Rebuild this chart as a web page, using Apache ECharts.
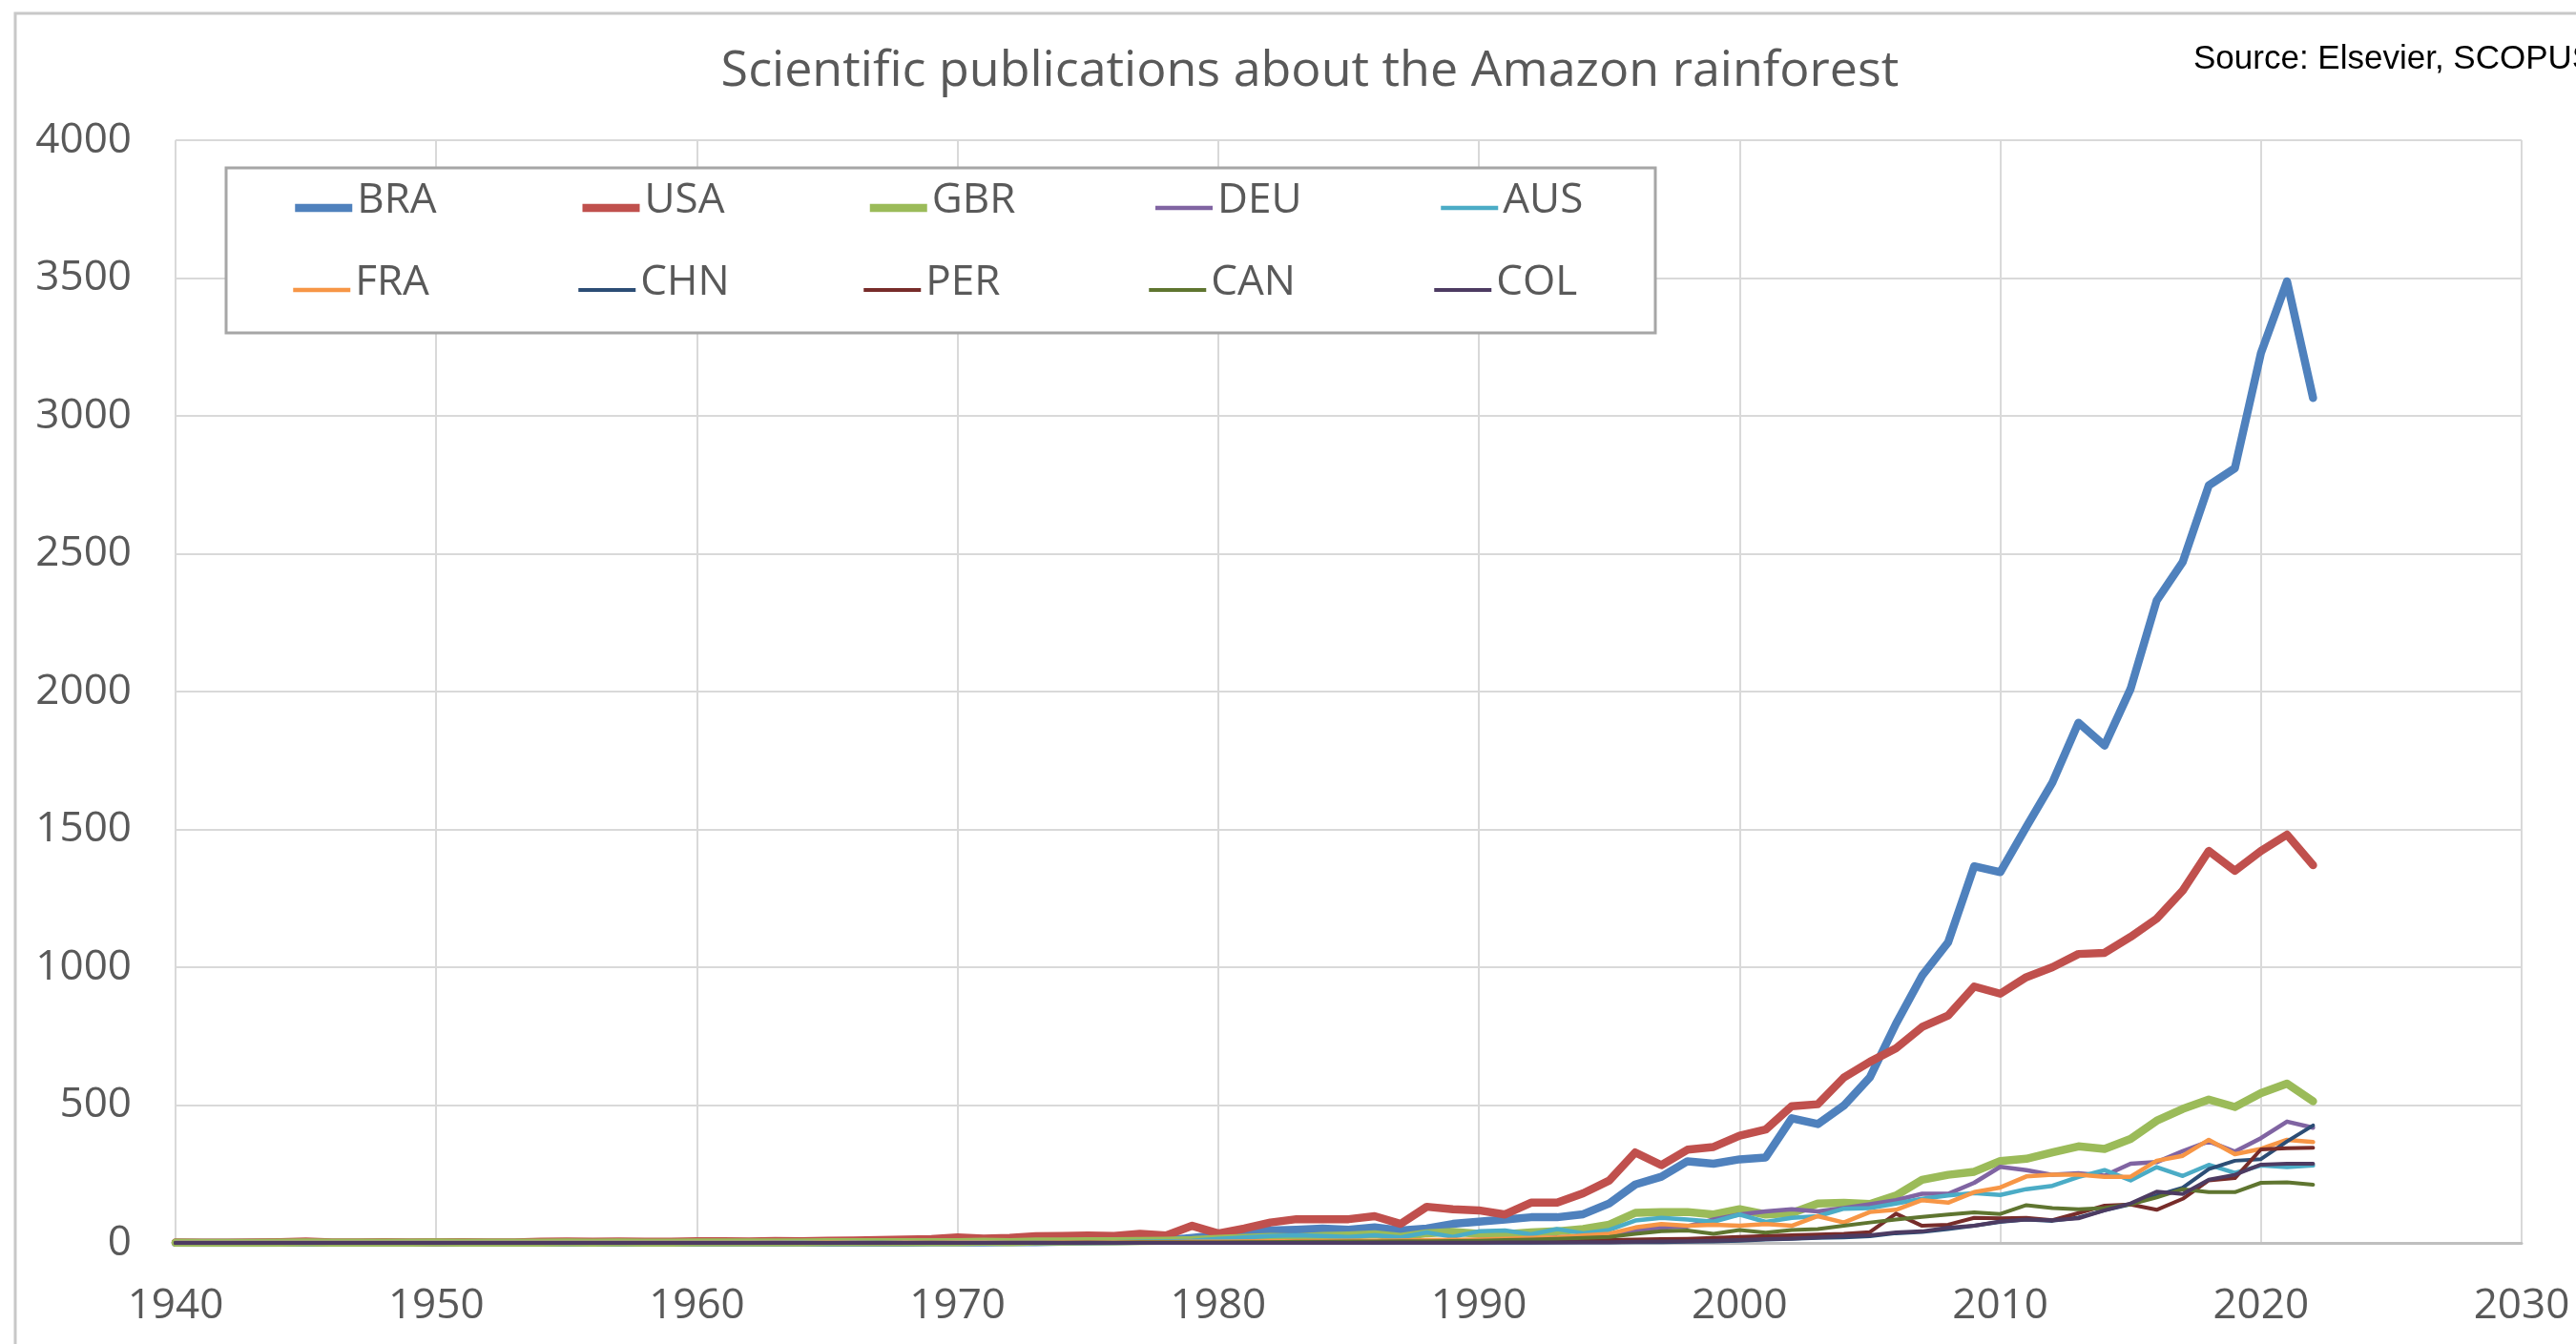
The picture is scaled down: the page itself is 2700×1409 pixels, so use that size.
<!DOCTYPE html>
<html>
<head>
<meta charset="utf-8">
<script src="https://cdn.jsdelivr.net/npm/echarts@6/dist/echarts.min.js"></script>
<style>
html, body { margin: 0; padding: 0; background: #fff; }
#main { width: 2700px; height: 1409px; }
</style>
</head>
<body>
<div id="main"></div>
<script>
// years 1940..2022
var years = [1940,1941,1942,1943,1944,1945,1946,1947,1948,1949,
  1950,1951,1952,1953,1954,1955,1956,1957,1958,1959,
  1960,1961,1962,1963,1964,1965,1966,1967,1968,1969,
  1970,1971,1972,1973,1974,1975,1976,1977,1978,1979,
  1980,1981,1982,1983,1984,1985,1986,1987,1988,1989,
  1990,1991,1992,1993,1994,1995,1996,1997,1998,1999,
  2000,2001,2002,2003,2004,2005,2006,2007,2008,2009,
  2010,2011,2012,2013,2014,2015,2016,2017,2018,2019,
  2020,2021,2022];

var BRA = [0,0,0,0,0,0,0,0,0,0, 0,0,0,0,0,0,0,0,0,0, 0,0,1,0,1,0,1,1,1,2,
  2,2,3,3,4,5,6,8,10,18, 28,39,45,48,52,48,56,45,52,69,
  77,85,93,93,104,143,212,240,296,287, 303,310,452,431,498,601,795,969,1090,1366,
  1345,1509,1670,1887,1804,2010,2330,2470,2748,2810, 3228,3488,3065];
var USA = [2,1,1,2,3,5,2,2,3,2, 3,3,2,2,4,5,4,5,4,4, 6,6,5,7,6,8,9,10,12,14,
  20,16,18,24,25,27,25,33,27,62, 34,52,74,86,86,86,97,69,131,122,
  118,103,146,146,180,226,328,282,338,348, 389,411,496,503,600,657,706,783,825,930,
  904,964,1000,1048,1052,1110,1176,1278,1422,1350, 1422,1481,1370];
var GBR = [1,0,0,0,1,2,1,1,1,1, 2,1,1,1,1,2,1,2,1,1, 2,2,2,2,2,3,3,3,3,3,
  3,4,3,5,5,6,6,7,8,10, 15,18,22,20,25,27,31,22,35,40,
  33,31,38,42,50,66,109,112,112,103, 122,103,108,143,145,141,172,229,247,258,
  297,305,328,350,341,377,443,486,520,493, 543,578,514];
var DEU = [0,0,0,0,0,0,0,0,0,0, 0,0,0,0,0,0,0,0,0,0, 0,0,0,1,0,0,1,0,1,1,
  1,1,1,1,1,2,2,2,3,3, 3,4,4,5,5,6,6,7,8,8,
  10,12,15,20,25,30,45,55,60,85, 103,114,122,114,126,140,155,178,178,218,
  276,264,247,253,244,287,293,333,368,331, 380,440,418];
var AUS = [0,0,0,0,0,0,0,0,0,0, 0,0,0,0,0,0,0,0,0,0, 0,0,0,0,1,0,0,1,1,1,
  1,1,2,2,2,3,3,4,5,8, 15,20,25,28,25,22,28,20,38,22,
  42,45,31,50,35,47,81,91,85,77, 103,76,91,97,124,126,143,160,172,181,
  174,195,207,239,264,227,275,243,283,254, 281,275,281];
var FRA = [0,0,0,0,0,0,0,0,0,0, 0,0,0,0,0,0,0,0,0,0, 0,0,0,0,0,1,0,0,1,1,
  1,1,1,1,2,2,2,3,3,4, 4,5,6,6,7,8,8,9,10,11,
  12,15,18,20,27,33,56,68,62,66, 62,68,62,97,74,112,120,155,146,184,
  201,241,247,247,240,240,298,316,374,322, 341,374,366];
var CHN = [0,0,0,0,0,0,0,0,0,0, 0,0,0,0,0,0,0,0,0,0, 0,0,0,0,0,0,0,0,0,0,
  0,0,0,0,0,0,0,0,0,0, 0,0,0,0,0,1,0,1,1,1,
  1,1,1,2,2,2,3,3,4,5, 8,12,15,18,20,24,35,40,50,62,
  76,85,80,92,118,140,172,200,268,298, 304,368,426];
var PER = [0,0,0,0,0,0,0,0,0,0, 0,0,0,0,0,0,0,0,0,0, 0,0,0,0,0,0,0,0,0,0,
  0,0,0,0,0,1,0,1,1,1, 1,1,2,2,2,2,3,3,3,3,
  3,4,5,6,8,10,12,14,15,18, 22,25,28,30,33,39,106,62,66,91,
  89,91,82,108,135,139,120,160,227,235, 339,343,345];
var CAN = [0,0,0,0,0,0,0,0,0,0, 0,0,0,0,0,0,0,0,0,0, 0,0,0,0,0,0,0,1,0,1,
  0,0,1,1,1,1,1,2,2,2, 2,3,3,4,4,5,5,6,6,7,
  8,10,12,15,18,22,33,42,45,33, 47,37,47,50,62,74,85,94,103,111,
  105,137,126,122,126,140,165,195,184,184, 218,220,211];
var COL = [0,0,0,0,0,0,0,0,0,0, 0,0,0,0,0,0,0,0,0,0, 0,0,0,0,0,0,0,0,0,0,
  0,0,0,0,0,0,0,0,0,0, 0,0,0,0,1,0,1,1,1,1,
  1,2,2,2,3,3,4,5,6,8, 10,14,16,20,25,28,38,42,55,62,
  78,85,82,89,118,143,186,177,229,247, 284,287,287];

var countryNames = ['BRA', 'USA', 'GBR', 'DEU', 'AUS', 'FRA', 'CHN', 'PER', 'CAN', 'COL'];
var countryValues = [BRA, USA, GBR, DEU, AUS, FRA, CHN, PER, CAN, COL];

var colorOf = {
  BRA: '#4F81BD', USA: '#C0504D', GBR: '#9BBB59', DEU: '#8064A2', AUS: '#4BACC6',
  FRA: '#F79646', CHN: '#2C4D75', PER: '#772C2A', CAN: '#5F7530', COL: '#4D3B62'
};
var widthOf = { BRA: 8.5, USA: 8.5, GBR: 8.5, DEU: 4.5, AUS: 4.5, FRA: 4.5, CHN: 4, PER: 4, CAN: 4, COL: 4 };

var myChart = echarts.init(document.getElementById('main'));

var series = countryNames.map(function (name, k) {
  var vals = countryValues[k];
  return {
    name: name,
    type: 'line',
    symbol: 'none',
    animation: false,
    lineStyle: { color: colorOf[name], width: widthOf[name], cap: 'round', join: 'round' },
    itemStyle: { color: colorOf[name] },
    data: years.map(function (y, i) { return [y, vals[i]]; })
  };
});

// rich token with bottom padding: lifts the name a bit above the line icon, as Excel does
var legendBase = {
  orient: 'horizontal',
  padding: 0,
  itemGap: 0,
  itemWidth: 60,
  itemHeight: 2,
  itemStyle: { opacity: 0 },
  lineStyle: { width: 'inherit', cap: 'butt' },
  formatter: function (name) { return '{n|' + name + '}'; },
  textStyle: {
    fontFamily: 'Open Sans', fontSize: 44, color: '#595959',
    rich: {
      n: {
        fontFamily: 'Open Sans', fontSize: 44, color: '#595959',
        width: 232, lineHeight: 50, padding: [0, 0, 16, 0]
      }
    }
  },
  selectedMode: false
};

var option = {
  backgroundColor: '#ffffff',
  animation: false,
  title: {
    text: 'Scientific publications about the Amazon rainforest',
    left: 1368,
    top: 44,
    textAlign: 'center',
    textStyle: { fontFamily: 'Open Sans', fontSize: 52, fontWeight: 'normal', color: '#595959' }
  },
  grid: { left: 184, right: 57, top: 147, bottom: 106 },
  legend: [
    Object.assign({}, legendBase, { left: 305, top: 188, data: countryNames.slice(0, 5) }),
    Object.assign({}, legendBase, { left: 305, top: 274, data: countryNames.slice(5) })
  ],
  xAxis: {
    type: 'value',
    min: 1940, max: 2030, interval: 10,
    axisLine: { show: true, onZero: false, lineStyle: { color: '#bfbfbf', width: 3 } },
    axisTick: { show: false },
    axisLabel: {
      fontFamily: 'Open Sans', fontSize: 44, color: '#595959', margin: 44,
      formatter: function (v) { return String(v); }
    },
    splitLine: { show: true, lineStyle: { color: '#d9d9d9', width: 2 } }
  },
  yAxis: {
    type: 'value',
    min: 0, max: 4000, interval: 500,
    axisLine: { show: false },
    axisTick: { show: false },
    axisLabel: {
      fontFamily: 'Open Sans', fontSize: 44, color: '#595959', margin: 46,
      formatter: function (v) { return String(v); }
    },
    splitLine: { show: true, lineStyle: { color: '#d9d9d9', width: 2 } }
  },
  graphic: [
    {
      type: 'rect', z: 0,
      shape: { x: 16, y: 14, width: 2800, height: 1500 },
      style: { fill: 'none', stroke: '#c8c8c8', lineWidth: 3 }
    },
    {
      type: 'rect', z: 3,
      shape: { x: 237, y: 176, width: 1498, height: 173 },
      style: { fill: '#ffffff', stroke: '#a6a6a6', lineWidth: 3 }
    },
    {
      type: 'text', z: 5,
      x: 2299, y: 62,
      style: {
        text: 'Source: Elsevier, SCOPUS',
        fontFamily: 'Liberation Sans', fontSize: 35, fill: '#000000',
        verticalAlign: 'middle'
      }
    }
  ],
  series: series
};

myChart.setOption(option);
</script>
</body>
</html>
